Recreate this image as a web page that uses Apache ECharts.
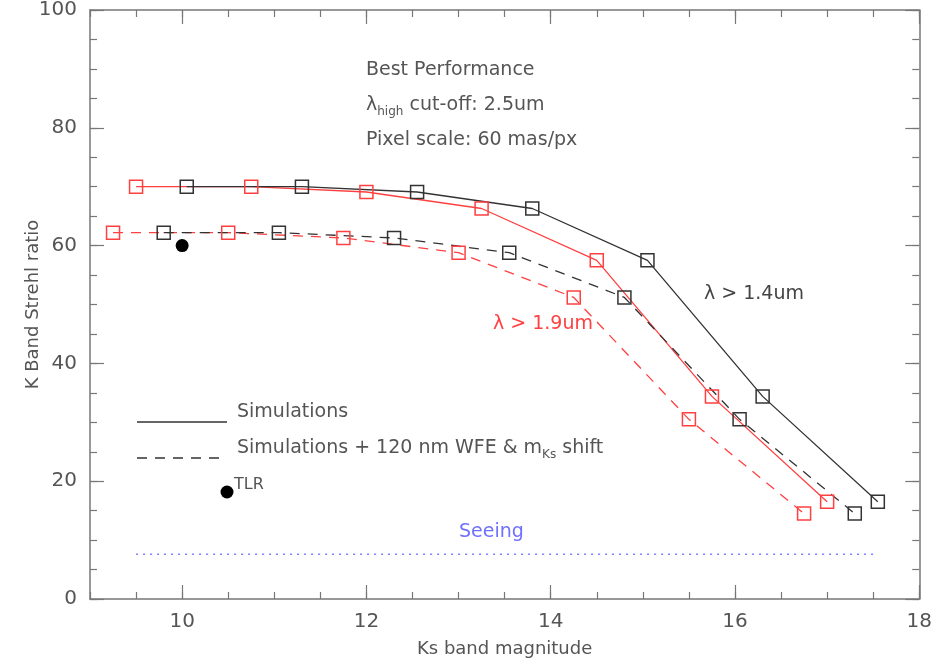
<!DOCTYPE html>
<html>
<head>
<meta charset="utf-8">
<script src="https://cdn.jsdelivr.net/npm/echarts@6/dist/echarts.min.js"></script>
<style>
html,body{margin:0;padding:0;background:#fff;}
#chart{width:935px;height:666px;}
</style>
</head>
<body>
<div id="chart"></div>
<script>
// Data
var redSolidX   = [9.5, 10.75, 12.0, 13.25, 14.5, 15.75, 17.0];
var blackSolidX = [10.05, 11.3, 12.55, 13.8, 15.05, 16.3, 17.55];
var solidY      = [70.0, 70.0, 69.1, 66.3, 57.5, 34.4, 16.5];
var redDashX    = [9.25, 10.5, 11.75, 13.0, 14.25, 15.5, 16.75];
var blackDashX  = [9.8, 11.05, 12.3, 13.55, 14.8, 16.05, 17.3];
var dashY       = [62.2, 62.2, 61.3, 58.8, 51.2, 30.5, 14.5];
var tlrPoint    = [10.0, 60.0];
var seeingX     = [9.5, 17.55];
var seeingY     = [7.6, 7.6];
var xMajor      = [10, 12, 14, 16, 18];
var yMajor      = [0, 20, 40, 60, 80, 100];

function zip(xs, ys){ return xs.map(function(x,i){ return [x, ys[i]]; }); }

var FONT = 'DejaVu Sans';
var TXT = '#555';
var AX = '#777';
var BLACK = '#333';
var RED = '#ff4040';
var FS = 19;

var chart = echarts.init(document.getElementById('chart'));

function minorX(pos){
  return {type:'value', position:pos, min:9, max:18, interval:0.5, gridIndex:0,
    axisLine:{show:true, onZero:false, lineStyle:{color:AX, width:1.5}},
    axisTick:{show:true, inside:true, length:7, lineStyle:{color:AX, width:1.2}},
    axisLabel:{show:false}, splitLine:{show:false}};
}
function majorX(pos, labels){
  return {type:'value', position:pos, min:9, max:18, gridIndex:0,
    name: labels ? 'Ks band magnitude' : '', nameLocation:'middle', nameGap:41, nameMoveOverlap:false,
    nameTextStyle:{fontFamily:FONT, fontSize:18, color:TXT},
    axisLine:{show:false, onZero:false},
    axisTick:{show:true, inside:true, length:14, customValues:xMajor, lineStyle:{color:AX, width:1.2}},
    axisLabel:{show:!!labels, customValues:xMajor, margin:13, fontFamily:FONT, fontSize:20, color:TXT},
    splitLine:{show:false}};
}
function minorY(pos){
  return {type:'value', position:pos, min:0, max:100, interval:5, gridIndex:0,
    axisLine:{show:true, onZero:false, lineStyle:{color:AX, width:1.5}},
    axisTick:{show:true, inside:true, length:7, lineStyle:{color:AX, width:1.2}},
    axisLabel:{show:false}, splitLine:{show:false}};
}
function majorY(pos, labels){
  return {type:'value', position:pos, min:0, max:100, gridIndex:0,
    name: labels ? 'K Band Strehl ratio' : '', nameLocation:'middle', nameGap:48, nameRotate:90,
    nameMoveOverlap:false,
    nameTextStyle:{fontFamily:FONT, fontSize:18, color:TXT},
    axisLine:{show:false, onZero:false},
    axisTick:{show:true, inside:true, length:14, customValues:yMajor, lineStyle:{color:AX, width:1.2}},
    axisLabel:{show:!!labels, customValues:yMajor, margin:13, fontFamily:FONT, fontSize:20, color:TXT},
    splitLine:{show:false}};
}

function lineSeries(xs, ys, color, dashed){
  return {type:'line', xAxisIndex:0, yAxisIndex:0, data:zip(xs, ys),
    symbol:'rect', symbolSize:13, z:3,
    itemStyle:{color:'rgba(0,0,0,0)', borderColor:color, borderWidth:1.5},
    lineStyle:{color:color, width:1.3, type: dashed ? [10,8] : 'solid'},
    animation:false};
}

function txt(s, x, y, color, size){
  return {type:'text', left:x, top:y, style:{text:s, fontFamily:FONT, fontSize:size||FS, fill:color||TXT}};
}

var option = {
  animation:false,
  backgroundColor:'#fff',
  grid:{left:90, right:14, top:9, bottom:67, containLabel:false},
  xAxis:[minorX('bottom'), majorX('bottom', true), minorX('top'), majorX('top', false)],
  yAxis:[minorY('left'), majorY('left', true), minorY('right'), majorY('right', false)],
  series:[
    lineSeries(redSolidX, solidY, RED, false),
    lineSeries(blackSolidX, solidY, BLACK, false),
    lineSeries(redDashX, dashY, RED, true),
    lineSeries(blackDashX, dashY, BLACK, true),
    {type:'scatter', xAxisIndex:0, yAxisIndex:0, data:[tlrPoint], symbol:'circle', symbolSize:13,
      itemStyle:{color:'#000', opacity:1}, z:4},
    {type:'line', xAxisIndex:0, yAxisIndex:0, data:zip(seeingX, seeingY), symbol:'none',
      lineStyle:{color:'#8080ff', width:1.5, type:[2,5]}, z:2}
  ],
  graphic:[
    txt('Best Performance', 366, 61),
    {type:'text', left:366, top:96, style:{
      text:'{l|λ}{s|high}{l| cut-off: 2.5um}',
      rich:{l:{fontFamily:FONT, fontSize:FS, fill:TXT},
            s:{fontFamily:FONT, fontSize:12, fill:TXT, padding:[12,0,0,0]}}}},
    txt('Pixel scale: 60 mas/px', 366, 131),
    txt('λ > 1.4um', 704, 285, '#444'),
    txt('λ > 1.9um', 493, 315, RED),
    {type:'line', shape:{x1:137, y1:422, x2:227, y2:422}, style:{stroke:BLACK, lineWidth:1.3}},
    txt('Simulations', 237, 403),
    {type:'line', shape:{x1:137, y1:458, x2:227, y2:458}, style:{stroke:BLACK, lineWidth:1.3, lineDash:[10,8]}},
    {type:'text', left:237, top:439, style:{
      text:'{l|Simulations + 120 nm WFE & m}{s|Ks}{l| shift}',
      rich:{l:{fontFamily:FONT, fontSize:FS, fill:TXT},
            s:{fontFamily:FONT, fontSize:12, fill:TXT, padding:[12,0,0,0]}}}},
    {type:'circle', shape:{cx:227, cy:492, r:6.5}, style:{fill:'#000'}},
    txt('TLR', 234, 477, TXT, 16),
    txt('Seeing', 459, 523, '#7070ff')
  ]
};
chart.setOption(option);
</script>
</body>
</html>
